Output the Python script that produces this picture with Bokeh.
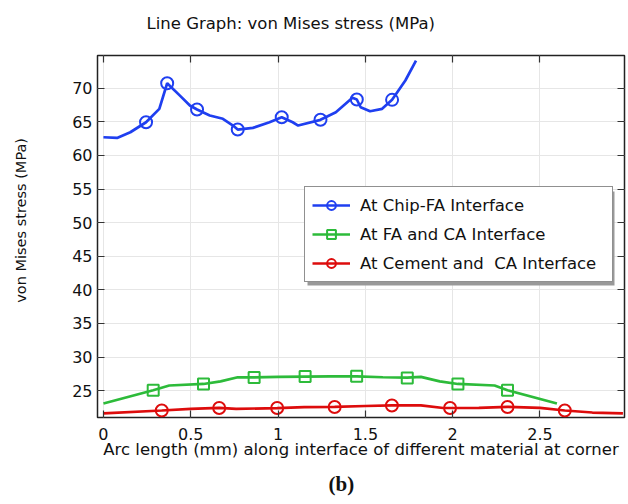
from bokeh.plotting import figure
from bokeh.models import (Range1d, LinearAxis, FixedTicker, Legend, LegendItem,
                          Title, BoxAnnotation, CustomLabelingPolicy)
from bokeh.embed import file_html
from bokeh.resources import INLINE

# ---------------- data ----------------
chip_x = [0, 0.078, 0.154, 0.244, 0.32, 0.365, 0.438, 0.495, 0.536, 0.609, 0.684,
          0.742, 0.769, 0.856, 0.951, 1.021, 1.084, 1.115, 1.243, 1.331, 1.426,
          1.451, 1.473, 1.527, 1.596, 1.653, 1.729, 1.79]
chip_y = [62.71, 62.6, 63.45, 64.94, 66.93, 70.74, 68.9, 67.43, 66.83, 65.94, 65.45,
          64.45, 63.85, 64.1, 64.94, 65.68, 64.94, 64.45, 65.30, 66.43, 68.57,
          68.32, 67.17, 66.58, 66.93, 68.27, 71.15, 74.12]
chip_mx = [0.244, 0.365, 0.536, 0.769, 1.021, 1.243, 1.451, 1.653]
chip_my = [64.94, 70.74, 66.83, 63.85, 65.68, 65.30, 68.32, 68.27]

fa_x = [0, 0.285, 0.377, 0.573, 0.671, 0.769, 0.863, 1.0, 1.155, 1.3, 1.45,
        1.6, 1.74, 1.818, 1.926, 2.03, 2.24, 2.314, 2.597]
fa_y = [23.1, 25.07, 25.77, 26.0, 26.39, 27.0, 26.98, 27.05, 27.1, 27.12, 27.12,
        27.0, 26.95, 27.05, 26.39, 26.0, 25.77, 25.07, 23.1]
fa_mx = [0.285, 0.573, 0.863, 1.155, 1.450, 1.740, 2.030, 2.314]
fa_my = [25.07, 26.0, 26.95, 27.1, 27.15, 26.9, 26.0, 25.07]

ce_x = [0, 0.334, 0.5, 0.663, 0.76, 0.995, 1.15, 1.324, 1.5, 1.652, 1.818,
        1.946, 2.15, 2.314, 2.5, 2.642, 2.8, 2.975]
ce_y = [21.62, 22.05, 22.3, 22.45, 22.3, 22.4, 22.55, 22.6, 22.72, 22.8, 22.82,
        22.42, 22.45, 22.6, 22.45, 22.05, 21.75, 21.62]
ce_mx = [0.334, 0.663, 0.995, 1.324, 1.652, 1.985, 2.314, 2.642]
ce_my = [22.05, 22.43, 22.43, 22.58, 22.79, 22.43, 22.58, 22.05]

x_ticks = [0, 0.5, 1, 1.5, 2, 2.5]
x_tick_labels = ["0", "0.5", "1", "1.5", "2", "2.5"]
y_ticks = [25, 30, 35, 40, 45, 50, 55, 60, 65, 70]

series_names = ["At Chip-FA Interface", "At FA and CA Interface",
                "At Cement and  CA Interface"]

title_text = "Line Graph: von Mises stress (MPa)"
x_label = "Arc length (mm) along interface of different material at corner"
y_label = "von Mises stress (MPa)"
caption = "(b)"

# ---------------- styling ----------------
FONT = "DejaVu Sans"
BLUE = "#1f3ff0"
GREEN = "#2dbb3a"
RED = "#dd0c0c"
INK = "#111111"

p = figure(width=628, height=504, output_backend="svg", toolbar_location=None,
           x_range=Range1d(-0.034, 2.984), y_range=Range1d(21.01, 74.87),
           min_border_left=97, min_border_right=1, min_border_top=55,
           min_border_bottom=87)

p.outline_line_color = "#222222"
p.outline_line_width = 1.5
p.background_fill_color = "white"
p.border_fill_color = "white"

# title (left aligned with an offset, as in the reference)
p.title = Title(text=title_text, align="left", offset=49, vertical_align="top",
                standoff=25, text_font=FONT, text_font_size="16.5px",
                text_font_style="normal", text_color=INK)

# grids
p.xgrid.ticker = FixedTicker(ticks=x_ticks)
p.ygrid.ticker = FixedTicker(ticks=y_ticks)
for g in (p.xgrid[0], p.ygrid[0]):
    g.grid_line_color = "#e6e6e6"
    g.grid_line_width = 1

# main axes
xa = p.xaxis[0]
xa.ticker = FixedTicker(ticks=x_ticks)
xa.major_label_overrides = {t: l for t, l in zip(x_ticks, x_tick_labels)}
xa.axis_label = x_label
ya = p.yaxis[0]
ya.ticker = FixedTicker(ticks=y_ticks)
# leading no-break spaces shift the centred label upward as in the reference
ya.axis_label = "\u00a0" * 7 + y_label

for ax in (xa, ya):
    ax.axis_line_color = None
    ax.major_tick_in = 7
    ax.major_tick_out = 0
    ax.major_tick_line_color = "#333333"
    ax.major_tick_line_width = 1.2
    ax.minor_tick_line_color = None
    ax.major_label_text_font = FONT
    ax.major_label_text_font_size = "16px"
    ax.major_label_text_color = INK
    ax.axis_label_text_font = FONT
    ax.axis_label_text_font_style = "normal"
    ax.axis_label_text_color = INK
xa.axis_label_text_font_size = "16.5px"
ya.axis_label_text_font_size = "14.5px"
xa.major_label_standoff = 10
xa.axis_label_standoff = -3
ya.major_label_standoff = 5
ya.axis_label_standoff = 40

# mirrored tick-only axes (top, right), with no labels drawn
no_labels = CustomLabelingPolicy(code="return []")
top_ax = LinearAxis(ticker=FixedTicker(ticks=x_ticks))
right_ax = LinearAxis(ticker=FixedTicker(ticks=y_ticks))
for ax in (top_ax, right_ax):
    ax.axis_line_color = None
    ax.major_tick_in = 7
    ax.major_tick_out = 0
    ax.major_tick_line_color = "#333333"
    ax.major_tick_line_width = 1.2
    ax.minor_tick_line_color = None
    ax.major_label_text_font_size = "1px"
    ax.major_label_standoff = 0
    ax.major_label_policy = no_labels
top_ax.major_label_text_font_size = "8px"
p.add_layout(top_ax, "above")
p.add_layout(right_ax, "right")

# caption below the plot
p.add_layout(Title(text=caption, align="left", offset=231, vertical_align="bottom",
                   standoff=16, text_font="Liberation Serif", text_font_size="21px",
                   text_font_style="bold", text_color=INK), "below")

# data
lw = 2.7
l1 = p.line(chip_x, chip_y, line_color=BLUE, line_width=lw)
s1 = p.scatter(chip_mx, chip_my, marker="circle", size=12, fill_color=None,
               line_color=BLUE, line_width=2)
l2 = p.line(fa_x, fa_y, line_color=GREEN, line_width=lw)
s2 = p.scatter(fa_mx, fa_my, marker="square", size=11, fill_color=None,
               line_color=GREEN, line_width=2)
l3 = p.line(ce_x, ce_y, line_color=RED, line_width=lw)
s3 = p.scatter(ce_mx, ce_my, marker="circle", size=12, fill_color=None,
               line_color=RED, line_width=2)

# legend drop shadow
shadow = BoxAnnotation(left=210, right=517, bottom=132, top=226,
                       left_units="screen", right_units="screen",
                       bottom_units="screen", top_units="screen",
                       fill_color="#999999", fill_alpha=1.0, line_color=None)
p.add_layout(shadow)

legend = Legend(items=[LegendItem(label=series_names[0], renderers=[l1, s1]),
                       LegendItem(label=series_names[1], renderers=[l2, s2]),
                       LegendItem(label=series_names[2], renderers=[l3, s3])],
                location=(207, 135))
legend.label_text_font = FONT
legend.label_text_font_size = "16.5px"
legend.label_text_color = INK
legend.border_line_color = "#222222"
legend.border_line_width = 1.5
legend.background_fill_color = "white"
legend.background_fill_alpha = 1.0
legend.padding = 7
legend.spacing = 7
legend.margin = 0
legend.glyph_width = 38
legend.glyph_height = 22
legend.label_height = 22
legend.label_width = 245
legend.label_standoff = 10
p.add_layout(legend)

open("out.html", "w").write(file_html(p, INLINE))
